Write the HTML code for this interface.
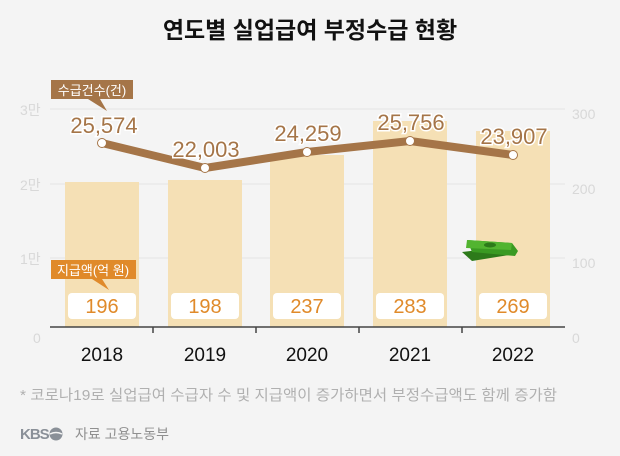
<!DOCTYPE html>
<html><head><meta charset="utf-8"><style>
body{margin:0;background:#f4f4f4;}
svg{display:block;font-family:"Liberation Sans","Noto Sans CJK KR",sans-serif;}
</style></head><body>
<svg width="620" height="456" viewBox="0 0 620 456">
<rect width="620" height="456" fill="#f4f4f4"/>
<text x="310" y="38" text-anchor="middle" font-size="23" font-weight="bold" fill="#111">연도별 실업급여 부정수급 현황</text>
<g stroke="#e4e4e4" stroke-width="1">
<line x1="50" y1="109" x2="565" y2="109"/><line x1="50" y1="184" x2="565" y2="184"/><line x1="50" y1="258" x2="565" y2="258"/>
</g>
<g font-size="14" fill="#d8d8d8">
<text x="20" y="115">3만</text><text x="20" y="190">2만</text><text x="20" y="264">1만</text><text x="33" y="343">0</text>
<text x="572" y="119">300</text><text x="572" y="194">200</text><text x="572" y="268">100</text><text x="572" y="343">0</text>
</g>
<g fill="#f5e0b5">
<rect x="65" y="182" width="74" height="145"/>
<rect x="168" y="180" width="74" height="147"/>
<rect x="270" y="155" width="74" height="172"/>
<rect x="373" y="121" width="74" height="206"/>
<rect x="476" y="131" width="74" height="196"/>
</g>
<line x1="50" y1="327" x2="565" y2="327" stroke="#444" stroke-width="1.5"/>
<g stroke="#444" stroke-width="1.5"><line x1="153" y1="327" x2="153" y2="333"/><line x1="256" y1="327" x2="256" y2="333"/><line x1="359" y1="327" x2="359" y2="333"/><line x1="462" y1="327" x2="462" y2="333"/></g>
<g font-size="19" fill="#111" text-anchor="middle">
<text x="102" y="361">2018</text><text x="205" y="361">2019</text><text x="307" y="361">2020</text><text x="410" y="361">2021</text><text x="513" y="361">2022</text>
</g>
<polyline points="102,143 205,168 307,152 410,141 513,155" fill="none" stroke="#a57548" stroke-width="8" stroke-linejoin="round"/>
<g fill="#fff" stroke="#a57548" stroke-width="1"><circle cx="102" cy="143" r="4.5"/><circle cx="205" cy="168" r="4.5"/><circle cx="307" cy="152" r="4.5"/><circle cx="410" cy="141" r="4.5"/><circle cx="513" cy="155" r="4.5"/></g>
<g font-size="22" fill="#a57548" text-anchor="middle" stroke="#fff" stroke-width="3" paint-order="stroke">
<text x="104" y="133">25,574</text><text x="206" y="157">22,003</text><text x="308" y="141">24,259</text><text x="411" y="130">25,756</text><text x="514" y="144">23,907</text>
</g>
<g fill="#fff"><rect x="68" y="293" width="68" height="26" rx="4"/><rect x="171" y="293" width="68" height="26" rx="4"/><rect x="273" y="293" width="68" height="26" rx="4"/><rect x="376" y="293" width="68" height="26" rx="4"/><rect x="479" y="293" width="68" height="26" rx="4"/></g>
<g font-size="20" fill="#e08a2a" text-anchor="middle">
<text x="102" y="313">196</text><text x="205" y="313">198</text><text x="307" y="313">237</text><text x="410" y="313">283</text><text x="513" y="313">269</text>
</g>
<rect x="51" y="80" width="82" height="19" fill="#a57548"/>
<polygon points="88,99 100,99 107,111" fill="#a57548"/>
<text x="92" y="95" font-size="13" fill="#fff" text-anchor="middle">수급건수(건)</text>
<rect x="51" y="260" width="85" height="19" fill="#e08a2a"/>
<polygon points="92,279 102,279 109,290" fill="#e08a2a"/>
<text x="93" y="275" font-size="13" fill="#fff" text-anchor="middle">지급액(억 원)</text>
<g>
<polygon points="462,252 505,247 515,254 472,261" fill="#2d7a1a"/>
<polygon points="467,240 512,243 518,251 515,256 472,252" fill="#3a9a22"/>
<polygon points="467,240 512,243 511,250 466,248" fill="#52b430"/>
<ellipse cx="490" cy="245" rx="6" ry="2.5" fill="#2d7a1a"/>
</g>
<text x="20" y="400" font-size="15" fill="#b0b0b0" textLength="537" lengthAdjust="spacingAndGlyphs">* 코로나19로 실업급여 수급자 수 및 지급액이 증가하면서 부정수급액도 함께 증가함</text>
<text x="20" y="439" font-size="15" font-weight="bold" fill="#8a9098" letter-spacing="-1">KBS</text>
<circle cx="56" cy="434" r="6.5" fill="#8a9098"/>
<path d="M50 434 Q56 431 62 434" stroke="#f4f4f4" stroke-width="1.5" fill="none"/>
<text x="75" y="439" font-size="14" fill="#909090">자료 고용노동부</text>
</svg>
</body></html>
